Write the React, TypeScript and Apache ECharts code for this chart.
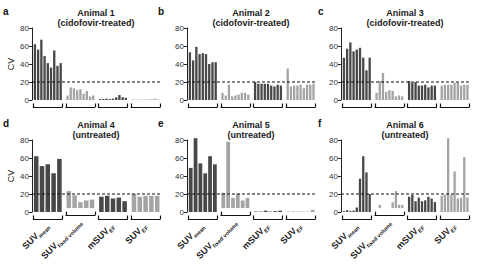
import React, { useEffect, useRef } from 'react';
import * as echarts from 'echarts';

// ---------- data ----------
const panelLetters = ['a', 'b', 'c', 'd', 'e', 'f'];
const animalNames = ['Animal 1', 'Animal 2', 'Animal 3', 'Animal 4', 'Animal 5', 'Animal 6'];
const treatments = [
  '(cidofovir-treated)', '(cidofovir-treated)', '(cidofovir-treated)',
  '(untreated)', '(untreated)', '(untreated)',
];
const groupMain = ['SUV', 'SUV', 'mSUV', 'SUV'];
const groupSub = ['mean', 'fixed volume', 'EF', 'EF'];
const yMin = 0;
const yMax = 80;
const yStep = 20;
const threshold = 20;

const animal1SuvMean = [62, 56, 67, 49, 41, 36, 55, 38, 41];
const animal1SuvFixed = [5, 14, 13, 11, 12, 7, 10, 4, 5];
const animal1MSuvEf = [1, 1, 1.5, 1, 1.5, 3, 5.5, 3, 2.5];
const animal1SuvEf = [0.5, 0.5, 0.5, 0.5, 0.5, 0.5, 1, 1.5, 0.5];

const animal2SuvMean = [53, 44, 59, 51, 52, 51, 40, 42, 42];
const animal2SuvFixed = [8, 5, 17, 4, 5, 6, 8, 8, 6];
const animal2MSuvEf = [20, 18, 18, 18, 18, 16, 15, 17, 16];
const animal2SuvEf = [35, 15, 16, 16, 17, 13, 17, 17, 18];

const animal3SuvMean = [47, 57, 64, 54, 56, 58, 47, 33, 47];
const animal3SuvFixed = [8, 21, 30, 9, 11, 10, 4, 5, 4];
const animal3MSuvEf = [21, 19, 20, 16, 16, 17, 14, 16, 16];
const animal3SuvEf = [16, 17, 17, 17, 19, 19, 16, 17, 17];

const animal4SuvMean = [62, 51, 53, 43, 59];
const animal4SuvFixed = [20, 15, 7, 9, 10];
const animal4MSuvEf = [17, 18, 15, 16, 12];
const animal4SuvEf = [20, 17, 18, 18, 18];

const animal5SuvMean = [49, 82, 54, 43, 62, 53];
const animal5SuvFixed = [18, 78, 12, 17, 9, 12];
const animal5MSuvEf = [0.5, 0.5, 1.5, 0.5, 1, 1.5];
const animal5SuvEf = [0.5, 0.5, 0.5, 0.5, 0.5, 2.5];

const animal6SuvMean = [1, 2, 1, 1.5, 5, 37, 62, 44, 20];
const animal6SuvFixed = [0, 4, 0, 0, 0, 7, 20, 4, 4];
const animal6MSuvEf = [17, 19, 12, 16, 12, 13, 17, 15, 11];
const animal6SuvEf = [18, 19, 82, 19, 45, 15, 16, 61, 16];

const animalGroups = [
  [animal1SuvMean, animal1SuvFixed, animal1MSuvEf, animal1SuvEf],
  [animal2SuvMean, animal2SuvFixed, animal2MSuvEf, animal2SuvEf],
  [animal3SuvMean, animal3SuvFixed, animal3MSuvEf, animal3SuvEf],
  [animal4SuvMean, animal4SuvFixed, animal4MSuvEf, animal4SuvEf],
  [animal5SuvMean, animal5SuvFixed, animal5MSuvEf, animal5SuvEf],
  [animal6SuvMean, animal6SuvFixed, animal6MSuvEf, animal6SuvEf],
];

// ---------- layout / style ----------
const FONT = '"Liberation Sans", Arial, Helvetica, sans-serif';
const colAxisX = [32, 187, 341];
const letterX = [3, 158, 318];
const rowTop = [28, 140];
const plotH = 72;
const plotW = 128;
const groupW = 29;
const groupStep = 32.6;
const groupOffset = 1.3;
const barColors = ['#484848', '#a4a4a4', '#484848', '#a4a4a4'];

function buildOption() {
  const grid: any[] = [];
  const xAxis: any[] = [];
  const yAxis: any[] = [];
  const series: any[] = [];
  const title: any[] = [];

  for (let p = 0; p < 6; p++) {
    const r = Math.floor(p / 3);
    const c = p % 3;
    const ax = colAxisX[c];
    const top = rowTop[r];

    title.push({
      text: animalNames[p] + '\n' + treatments[p],
      left: ax + plotW / 2,
      top: top - 20,
      textAlign: 'center',
      padding: 0,
      textStyle: { fontFamily: FONT, fontSize: 9, fontWeight: 'bold', lineHeight: 10, color: '#1a1a1a' },
    });
    title.push({
      text: panelLetters[p],
      left: letterX[c],
      top: top - 22,
      padding: 0,
      textStyle: { fontFamily: FONT, fontSize: 10, fontWeight: 'bold', color: '#111' },
    });

    const pg = grid.length;
    grid.push({ left: ax, top, width: plotW, height: plotH, containLabel: false });
    const pxi = xAxis.length;
    xAxis.push({ gridIndex: pg, type: 'value', min: 0, max: 1, show: false });
    const pyi = yAxis.length;
    yAxis.push({
      gridIndex: pg,
      type: 'value',
      min: yMin,
      max: yMax,
      interval: yStep,
      axisLine: { show: true, lineStyle: { color: '#222', width: 1 } },
      axisTick: { show: true, length: 3, lineStyle: { color: '#222', width: 1 } },
      axisLabel: { fontFamily: FONT, fontSize: 8, color: '#333', margin: 3 },
      splitLine: { show: false },
      name: c === 0 ? 'CV' : '',
      nameLocation: 'middle',
      nameGap: 17,
      nameRotate: 90,
      nameTextStyle: { fontFamily: FONT, fontSize: 9, color: '#222' },
    });
    series.push({
      type: 'line',
      xAxisIndex: pxi,
      yAxisIndex: pyi,
      data: [[0, threshold], [1, threshold]],
      showSymbol: false,
      symbol: 'none',
      silent: true,
      z: 10,
      lineStyle: { color: '#111', width: 1, type: [3, 2] },
    });

    for (let g = 0; g < 4; g++) {
      const vals = animalGroups[p][g];
      const gLeft = ax + groupOffset + g * groupStep;
      const gi = grid.length;
      grid.push({ left: gLeft, top, width: groupW, height: plotH });
      const xi = xAxis.length;
      xAxis.push({
        gridIndex: gi,
        type: 'category',
        data: vals.map((_, i) => String(i + 1)),
        boundaryGap: true,
        show: false,
      });
      xAxis.push({
        gridIndex: gi,
        type: 'value',
        min: 0,
        max: 1,
        interval: 1,
        position: 'bottom',
        offset: 7,
        axisLine: { show: true, lineStyle: { color: '#111', width: 1.2 } },
        axisTick: { show: true, inside: true, length: 3.5, lineStyle: { color: '#111', width: 1.2 } },
        axisLabel: { show: false },
        splitLine: { show: false },
        name: r === 1 ? `{m|${groupMain[g]}}{s|${groupSub[g]}}` : '',
        nameLocation: 'middle',
        nameGap: 6,
        nameRotate: 45,
        nameTextStyle: {
          rich: {
            m: { fontFamily: FONT, fontSize: 9, fontWeight: 'bold', color: '#222', verticalAlign: 'bottom', padding: [0, 0, 2, 0] },
            s: { fontFamily: FONT, fontSize: 5.5, fontWeight: 'bold', color: '#222', verticalAlign: 'bottom' },
          },
        },
      });
      const yi = yAxis.length;
      yAxis.push({ gridIndex: gi, type: 'value', min: yMin, max: yMax, interval: yStep, show: false, splitLine: { show: false } });
      series.push({
        type: 'bar',
        xAxisIndex: xi,
        yAxisIndex: yi,
        data: vals,
        barCategoryGap: vals.length > 6 ? '28%' : '22%',
        clip: false,
        itemStyle: { color: barColors[g] },
      });
    }
  }

  return {
    animation: false,
    backgroundColor: '#ffffff',
    title,
    grid,
    xAxis,
    yAxis,
    series,
  };
}

export default function App() {
  const ref = useRef<HTMLDivElement>(null);
  useEffect(() => {
    if (!ref.current) return;
    const chart = echarts.init(ref.current, undefined, { renderer: 'svg' });
    chart.setOption(buildOption() as any);
    return () => chart.dispose();
  }, []);
  return (
    <div
      ref={ref}
      style={{ position: 'fixed', left: 0, top: 0, width: 479, height: 264, background: '#fff' }}
    />
  );
}
